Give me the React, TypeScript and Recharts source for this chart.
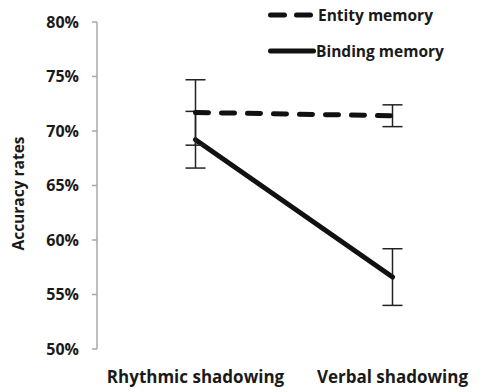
import React from 'react';
import { LineChart, Line, XAxis, YAxis, ErrorBar, Legend } from 'recharts';

const categories = ['Rhythmic shadowing', 'Verbal shadowing'];
const entityMemory = [0.717, 0.714];
const entityError = [0.03, 0.01];
const bindingMemory = [0.692, 0.566];
const bindingError = [0.026, 0.026];
const yTicks = [0.5, 0.55, 0.6, 0.65, 0.7, 0.75, 0.8];

const data = categories.map((category, i) => ({
  category,
  entity: entityMemory[i],
  entityErr: entityError[i],
  binding: bindingMemory[i],
  bindingErr: bindingError[i],
}));

const FONT = '"Open Sans", "DejaVu Sans", sans-serif';
const AXIS_GREY = '#a8a8a8';
const INK = '#111';

const legendItems = [
  { name: 'Entity memory', dash: '14 12' },
  { name: 'Binding memory', dash: undefined },
];

const LegendContent = () => (
  <div style={{ fontFamily: FONT, fontWeight: 700, fontSize: 15.5, color: '#1a1a1a' }}>
    {legendItems.map((item) => (
      <div key={item.name} style={{ display: 'flex', alignItems: 'center', height: 36 }}>
        <svg width={52} height={10} style={{ display: 'block' }}>
          <line
            x1={4.5}
            y1={5}
            x2={item.dash ? 44.5 : 47.5}
            y2={5}
            stroke={INK}
            strokeWidth={5}
            strokeLinecap="round"
            strokeDasharray={item.dash}
          />
        </svg>
        <span style={{ marginLeft: item.dash ? 0 : -2, lineHeight: '18px' }}>{item.name}</span>
      </div>
    ))}
  </div>
);

const YLabel = ({ viewBox }: any) => {
  const x = viewBox.x + 18;
  const y = viewBox.y + viewBox.height / 2 + 8;
  return (
    <text
      x={x}
      y={y}
      transform={`rotate(-90, ${x}, ${y})`}
      textAnchor="middle"
      dominantBaseline="central"
      style={{ fontFamily: FONT, fontWeight: 700, fontSize: 15.5, fill: '#1a1a1a' }}
    >
      Accuracy rates
    </text>
  );
};

export default function App() {
  const tickStyle = { fontFamily: FONT, fontWeight: 700, fontSize: 16, fill: '#1a1a1a' };
  const catTickStyle = { ...tickStyle, fontSize: 17 };
  return (
    <div style={{ position: 'absolute', left: 0, top: 0, width: 488, height: 392, overflow: 'hidden', background: '#fff' }}>
      <LineChart width={491} height={392} data={data} margin={{ top: 22, right: 0, bottom: 0, left: 0 }}>
        <XAxis
          xAxisId="edges"
          type="number"
          domain={[0, categories.length]}
          allowDataOverflow
          ticks={Array.from({ length: categories.length + 1 }, (_, i) => i)}
          tick={false}
          tickSize={5}
          height={0}
          axisLine={{ stroke: AXIS_GREY, strokeWidth: 1.5 }}
          tickLine={{ stroke: AXIS_GREY, strokeWidth: 1.5 }}
        />
        <XAxis
          xAxisId="cat"
          dataKey="category"
          scale="band"
          interval={0}
          height={43}
          axisLine={false}
          tickLine={false}
          tickSize={0}
          tickMargin={22}
          tick={catTickStyle}
        />
        <YAxis
          width={97}
          domain={[0.5, 0.8]}
          ticks={yTicks}
          interval={0}
          tickFormatter={(v: number) => `${Math.round(v * 100)}%`}
          tick={tickStyle}
          tickSize={5}
          tickMargin={13}
          axisLine={{ stroke: AXIS_GREY, strokeWidth: 1.5 }}
          tickLine={{ stroke: AXIS_GREY, strokeWidth: 1.5 }}
          label={<YLabel />}
        />
        <Legend
          layout="vertical"
          align="center"
          verticalAlign="middle"
          wrapperStyle={{ top: -3, left: 266, width: 'auto' }}
          content={<LegendContent />}
        />
        <Line
          xAxisId="cat"
          type="linear"
          dataKey="binding"
          name="Binding memory"
          stroke={INK}
          strokeWidth={5}
          strokeLinecap="round"
          dot={false}
          activeDot={false}
          isAnimationActive={false}
        >
          <ErrorBar dataKey="bindingErr" direction="y" width={10} stroke="#222" strokeWidth={1.5} isAnimationActive={false} />
        </Line>
        <Line
          xAxisId="cat"
          type="linear"
          dataKey="entity"
          name="Entity memory"
          stroke={INK}
          strokeWidth={5}
          strokeDasharray="13 13"
          strokeLinecap="round"
          dot={false}
          activeDot={false}
          isAnimationActive={false}
        >
          <ErrorBar dataKey="entityErr" direction="y" width={10} stroke="#222" strokeWidth={1.5} isAnimationActive={false} />
        </Line>
      </LineChart>
    </div>
  );
}
